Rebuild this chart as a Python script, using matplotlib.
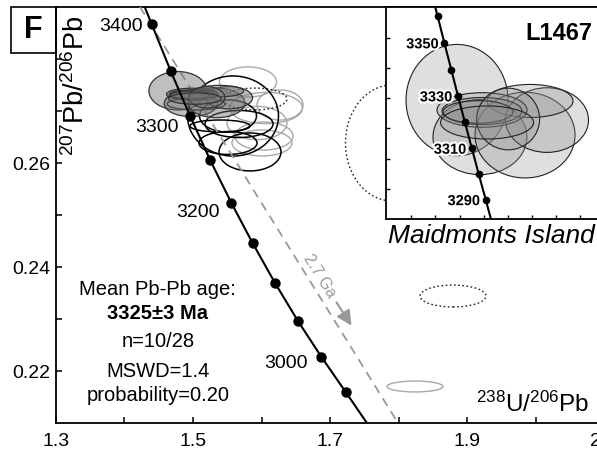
import matplotlib
matplotlib.use("Agg")
import matplotlib.pyplot as plt
from matplotlib.patches import Ellipse, Rectangle
import matplotlib.patheffects as pe

plt.rcParams['font.family'] = ['Liberation Sans', 'DejaVu Sans']
plt.rcParams['mathtext.fontset'] = 'custom'
plt.rcParams['mathtext.rm'] = 'Liberation Sans'
plt.rcParams['mathtext.it'] = 'Liberation Sans:italic'
plt.rcParams['mathtext.bf'] = 'Liberation Sans:bold'
plt.rcParams['mathtext.default'] = 'regular'

# ---------------- data ----------------
# concordia ticks (main panel)
conc_ages = [3400, 3350, 3300, 3250, 3200, 3150, 3100, 3050, 3000, 2950]
conc_x = [1.4397, 1.4674, 1.4959, 1.5253, 1.5557, 1.5870, 1.6194, 1.6528, 1.6875, 1.7232]
conc_y = [0.2867, 0.2777, 0.2690, 0.2605, 0.2524, 0.2446, 0.2370, 0.2297, 0.2227, 0.2159]
conc_line_x = [1.4295, 1.4397, 1.4674, 1.4959, 1.5253, 1.5557, 1.5870, 1.6194, 1.6528, 1.6875, 1.7232, 1.7539]
conc_line_y = [0.2900, 0.2867, 0.2777, 0.2690, 0.2605, 0.2524, 0.2446, 0.2370, 0.2297, 0.2227, 0.2159, 0.2100]
conc_labels = [3400, 3300, 3200, 3000]

# concordia ticks (inset)
in_ages = [3360, 3350, 3340, 3330, 3320, 3310, 3300, 3290]
in_x = [1.4618, 1.4674, 1.4731, 1.4787, 1.4844, 1.4902, 1.4959, 1.5017]
in_y = [0.27947, 0.27769, 0.27592, 0.27416, 0.27242, 0.27068, 0.26896, 0.26726]
in_line_x = [1.4598, 1.4618, 1.4674, 1.4731, 1.4787, 1.4844, 1.4902, 1.4959, 1.5017, 1.5060]
in_line_y = [0.28008, 0.27947, 0.27769, 0.27592, 0.27416, 0.27242, 0.27068, 0.26896, 0.26726, 0.26598]
in_labels = [3350, 3330, 3310, 3290]

# 2.7 Ga reference line (endpoints)
ref_x = [1.4226, 1.7993]
ref_y = [0.2900, 0.2100]

# accepted analyses (grey filled): centre x, centre y, full width, full height
acc_x = [1.4779, 1.4969, 1.5343, 1.5525, 1.5384, 1.4986, 1.4986, 1.4953, 1.5203, 1.5028]
acc_y = [0.27389, 0.27143, 0.27156, 0.27256, 0.27383, 0.27323, 0.27316, 0.27310, 0.27263, 0.27240]
acc_w = [0.0846, 0.0779, 0.0829, 0.0688, 0.0713, 0.0746, 0.0663, 0.0580, 0.0522, 0.0771]
acc_h = [0.0074, 0.0050, 0.0057, 0.0043, 0.0022, 0.0023, 0.0018, 0.0015, 0.0041, 0.0022]

# rejected analyses, black outline
blk_x = [1.5584, 1.5832, 1.5511, 1.5511, 1.5394, 1.5044, 1.5672]
blk_y = [0.26904, 0.26212, 0.26904, 0.26385, 0.26712, 0.27135, 0.26750]
blk_w = [0.1328, 0.0905, 0.0832, 0.0847, 0.0876, 0.0847, 0.0993]
blk_h = [0.0154, 0.0073, 0.0062, 0.0044, 0.0023, 0.0023, 0.0052]

# rejected analyses, light grey outline
gry_x = [1.5803, 1.6066, 1.6036, 1.5934, 1.6270, 1.6007, 1.8241]
gry_y = [0.27558, 0.27058, 0.26519, 0.26769, 0.27115, 0.26385, 0.21702]
gry_w = [0.0832, 0.1066, 0.0847, 0.0876, 0.0672, 0.0876, 0.0818]
gry_h = [0.0058, 0.0060, 0.0054, 0.0064, 0.0058, 0.0050, 0.0021]

# rejected analyses, dotted outline
dot_x = [1.5905, 1.8796, 1.7905]
dot_y = [0.27231, 0.23442, 0.26385]
dot_w = [0.0934, 0.0964, 0.1358]
dot_h = [0.0042, 0.0042, 0.0223]

x_ticks = [1.3, 1.5, 1.7, 1.9, 2.1]
y_ticks = [0.22, 0.24, 0.26]

stats_lines = ["Mean Pb-Pb age:", "3325±3 Ma", "n=10/28", "MSWD=1.4", "probability=0.20"]

# ---------------- figure ----------------
W, H = 597, 457
fig = plt.figure(figsize=(W / 100, H / 100), dpi=100)

def fx(px):
    return px / W

def fy(py):
    return 1 - py / H

ax = fig.add_axes([fx(56), fy(423), fx(604) - fx(56), fy(7) - fy(423)])
ax.set_xlim(1.3, 2.1)
ax.set_ylim(0.21, 0.29)
ax.spines['right'].set_visible(False)
for s in ['left', 'bottom', 'top']:
    ax.spines[s].set_linewidth(1.3)
ax.set_xticks(x_ticks)
ax.set_xticklabels([f"{v:g}" for v in x_ticks])
ax.set_xticks([1.4, 1.6, 1.8, 2.0], minor=True)
ax.set_yticks(y_ticks)
ax.set_yticklabels([f"{v:.2f}" for v in y_ticks])
ax.set_yticks([0.23, 0.25, 0.27, 0.28], minor=True)
ax.tick_params(axis='both', which='both', direction='in', length=4, width=1.1,
               labelsize=14, top=False, right=False)
ax.tick_params(axis='x', pad=7)
ax.tick_params(axis='y', pad=4)

# ellipses
for x, y, w, h in zip(gry_x, gry_y, gry_w, gry_h):
    ax.add_patch(Ellipse((x, y), w, h, facecolor='none', edgecolor='#a8a8a8', lw=1.0, zorder=2))
for x, y, w, h in zip(dot_x, dot_y, dot_w, dot_h):
    ax.add_patch(Ellipse((x, y), w, h, facecolor='none', edgecolor='#222222', lw=1.0,
                         ls=(0, (1.2, 1.8)), zorder=2))
for x, y, w, h in zip(blk_x, blk_y, blk_w, blk_h):
    ax.add_patch(Ellipse((x, y), w, h, facecolor='none', edgecolor='black', lw=1.1, zorder=3))
for x, y, w, h in zip(acc_x, acc_y, acc_w, acc_h):
    ax.add_patch(Ellipse((x, y), w, h, facecolor=(0.45, 0.45, 0.45, 0.45),
                         edgecolor='#333333', lw=0.9, zorder=4))

# reference line and arrow
ax.plot(ref_x, ref_y, color='#999999', lw=1.3, ls=(0, (5, 3.5)), zorder=3)
ax.text(1.684, 0.23827, "2.7 Ga", rotation=-58, ha='center', va='center',
        rotation_mode='anchor', fontsize=11.5, color='#999999', zorder=5)
ax.annotate("", xy=(1.7336, 0.22827), xytext=(1.7073, 0.23365),
            arrowprops=dict(arrowstyle='-|>,head_length=0.9,head_width=0.45',
                            color='#999999', lw=1.5), zorder=5)

# concordia
ax.plot(conc_line_x, conc_line_y, color='black', lw=1.5, zorder=5)
ax.plot(conc_x, conc_y, 'o', color='black', ms=6.5, zorder=6)
lab_off = {3400: (-6.5, -2), 3300: (-8, -8), 3200: (-8.5, -7), 3000: (-10, -4.5)}
for a, x, y in zip(conc_ages, conc_x, conc_y):
    if a in conc_labels:
        ax.annotate(str(a), (x, y), xytext=lab_off[a], textcoords='offset points',
                    ha='right', va='center', fontsize=14, zorder=6)

# stats text
sy = [0.320, 0.264, 0.195, 0.123, 0.067]
for i, (t, yy) in enumerate(zip(stats_lines, sy)):
    ax.text(0.186, yy, t, transform=ax.transAxes, ha='center', va='center',
            fontsize=14.5, fontweight='bold' if i == 1 else 'normal')

# axis labels
ax.text(0.974, 0.026, r'$^{238}$U/$^{206}$Pb', transform=ax.transAxes,
        ha='right', va='baseline', fontsize=17.5)
fig.text(fx(76), fy(86), r'$^{207}$Pb/$^{206}$Pb', rotation=90, ha='center', va='center',
         fontsize=19.5)

# F box
fig.patches.append(Rectangle((fx(11), fy(53)), fx(56) - fx(11), fy(7) - fy(53),
                             transform=fig.transFigure, fill=False, lw=1.2, edgecolor='black'))
fig.text(fx(33), fy(30), "F", ha='center', va='center', fontsize=22, fontweight='bold')

# ---------------- inset ----------------
axi = fig.add_axes([fx(386), fy(219), fx(604) - fx(386), fy(7) - fy(219)])
axi.set_facecolor('white')
axi.set_xlim(1.419, 1.419 + (604 - 386) / 1206)
axi.set_ylim(0.26598, 0.28008)
axi.spines['right'].set_visible(False)
for s in ['left', 'bottom', 'top']:
    axi.spines[s].set_linewidth(1.3)
axi.set_xticks([1.44, 1.46, 1.48, 1.50, 1.52, 1.54, 1.56, 1.58])
axi.set_yticks([0.268, 0.270, 0.272, 0.274, 0.276, 0.278])
axi.tick_params(axis='both', direction='in', length=3, width=1.0,
                labelbottom=False, labelleft=False)
for x, y, w, h in zip(acc_x, acc_y, acc_w, acc_h):
    axi.add_patch(Ellipse((x, y), w, h, facecolor=(0.55, 0.55, 0.55, 0.28),
                          edgecolor='#222222', lw=0.8, zorder=2))
axi.plot(in_line_x, in_line_y, color='black', lw=1.5, zorder=4)
axi.plot(in_x, in_y, 'o', color='black', ms=4.5, zorder=5)
for a, x, y in zip(in_ages, in_x, in_y):
    if a in in_labels:
        axi.annotate(str(a), (x, y), xytext=(-4, -1), textcoords='offset points',
                     ha='right', va='center', fontsize=10.5, fontweight='bold', zorder=6,
                     path_effects=[pe.withStroke(linewidth=3, foreground='white')])
fig.text(fx(592), fy(34), "L1467", ha='right', va='center', fontsize=17, fontweight='bold')
fig.text(fx(491), fy(236), "Maidmonts Island", ha='center', va='center', fontsize=19,
         style='italic')

fig.savefig("out.png", dpi=100)
